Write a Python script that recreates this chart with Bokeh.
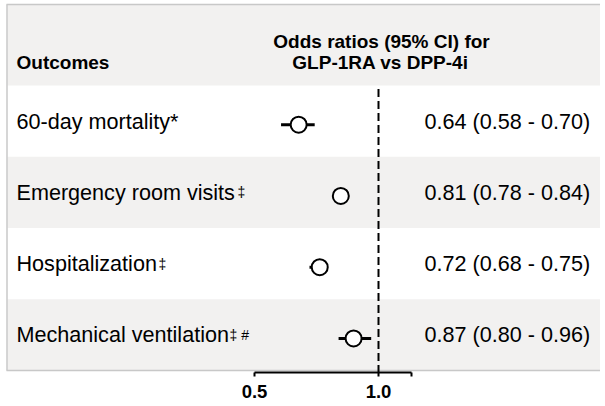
from bokeh.plotting import figure
from bokeh.models import Range1d, LinearScale, FixedTicker, ColumnDataSource
from bokeh.core.properties import value
from bokeh.embed import file_html
from bokeh.resources import INLINE

# ---- data ----
outcomes = ["60-day mortality*", "Emergency room visits", "Hospitalization", "Mechanical ventilation"]
marks = ["", "\u2021", "\u2021", "\u2021 #"]
odds_ratio = [0.64, 0.81, 0.72, 0.87]
ci_low = [0.58, 0.78, 0.68, 0.80]
ci_high = [0.70, 0.84, 0.75, 0.96]
row = [4, 3, 2, 1]
tick_values = [0.5, 1.0, 1.2]
tick_labels = ["0.5", "1.0", ""]
header_lines = ["Odds ratios (95% CI) for", "GLP-1RA vs DPP-4i"]
column_head = "Outcomes"
reference_value = 1.0

# ---- layout constants ----
FONT = "Liberation Sans"
GREY = "#f2f1f0"
BORDER = "#c8c8c8"
MARK_X = [0, 237, 158, 229]
MARKER_SHIFT = 0.05
W, H = 600, 406
X_LEFT, X_PX_PER_DOUBLING, X_HALF_PX = 0.0, 124.0, 254.0

value_text = [f"{o:.2f} ({l:.2f} - {h:.2f})" for o, l, h in zip(odds_ratio, ci_low, ci_high)]

src = ColumnDataSource(dict(
    outcome=outcomes, row=row, orv=odds_ratio, lo=ci_low, hi=ci_high,
    txt=value_text, mrow=[r - MARKER_SHIFT for r in row],
))

x_start = 0.5 * 2 ** ((X_LEFT - X_HALF_PX) / X_PX_PER_DOUBLING)
x_end = 0.5 * 2 ** ((W - X_HALF_PX) / X_PX_PER_DOUBLING)

p = figure(width=W, height=H, x_axis_type="log",
           x_range=Range1d(x_start, x_end), y_range=Range1d(0.47193, 5.69298),
           output_backend="svg", toolbar_location=None, y_axis_location=None,
           min_border_left=0, min_border_right=0, min_border_top=0, min_border_bottom=34)
p.extra_x_ranges = {"px": Range1d(0, W)}
p.extra_x_scales = {"px": LinearScale()}
p.extra_y_ranges = {"py": Range1d(372, 0)}
p.extra_y_scales = {"py": LinearScale()}
p.outline_line_color = None
p.xgrid.visible = False
p.ygrid.visible = False
p.background_fill_color = "white"
p.border_fill_color = "white"

# row bands
grey_rows = [r for r in row if r % 2 == 1]
p.quad(left=7, right=W + 20, bottom=[r - 0.5 for r in grey_rows], top=[r + 0.5 for r in grey_rows],
       x_range_name="px", fill_color=GREY, line_color=None)
p.quad(left=7, right=W + 20, bottom=85, top=4, x_range_name="px", y_range_name="py",
       fill_color=GREY, line_color=None)
# borders
p.segment(x0=6, x1=W + 20, y0=min(row) - 0.5, y1=min(row) - 0.5, x_range_name="px",
          line_color=BORDER, line_width=1.5)
p.segment(x0=6, x1=W + 20, y0=4, y1=4, x_range_name="px", y_range_name="py",
          line_color=BORDER, line_width=1.5)
p.segment(x0=6.5, x1=6.5, y0=370, y1=4, x_range_name="px", y_range_name="py",
          line_color=BORDER, line_width=1.5)

# reference line
p.segment(x0=reference_value, x1=reference_value, y0=max(row) + 0.45, y1=0.47193,
          line_color="black", line_width=2, line_dash="8 4")

# CIs and points
p.segment(x0="lo", x1="hi", y0="mrow", y1="mrow", source=src, line_color="black", line_width=3)
p.scatter(x="orv", y="mrow", source=src, size=16, fill_color="white", line_color="black", line_width=2)

# texts
p.text(x=16, y="row", text="outcome", source=src, x_range_name="px",
       text_font=value(FONT), text_font_size="21.6px", text_color="black",
       text_baseline="middle", text_align="left")
p.text(x=424, y="row", text="txt", source=src, x_range_name="px",
       text_font=value(FONT), text_font_size="21.6px", text_color="black",
       text_baseline="middle", text_align="left")
mx = [x for x, m in zip(MARK_X, marks) if m]
my = [r for r, m in zip(row, marks) if m]
mt = [m for m in marks if m]
p.text(x=mx, y=my, text=mt, x_range_name="px",
       text_font=value(FONT), text_font_size="14px", text_color="black",
       text_baseline="middle", text_align="left")

# header
p.text(x=[381, 380], y=[41, 61.5], text=header_lines, x_range_name="px", y_range_name="py",
       text_font=value(FONT), text_font_size="19px", text_font_style="bold",
       text_color="black", text_baseline="middle", text_align="center")
p.text(x=[16], y=[61.5], text=[column_head], x_range_name="px", y_range_name="py",
       text_font=value(FONT), text_font_size="19px", text_font_style="bold",
       text_color="black", text_baseline="middle", text_align="left")

# axis
ax = p.xaxis[0]
ax.ticker = FixedTicker(ticks=tick_values)
ax.major_label_overrides = {t: l for t, l in zip(tick_values, tick_labels)}
ax.bounds = (min(tick_values), max(tick_values))
ax.axis_line_color = "black"
ax.axis_line_width = 2
ax.major_tick_line_color = "black"
ax.major_tick_line_width = 2
ax.major_tick_out = 4
ax.major_tick_in = 0
ax.minor_tick_line_color = None
ax.major_label_standoff = 8
ax.major_label_text_font = FONT
ax.major_label_text_font_size = "18.5px"
ax.major_label_text_font_style = "bold"
ax.major_label_text_color = "black"

open("out.html", "w").write(file_html(p, INLINE))
